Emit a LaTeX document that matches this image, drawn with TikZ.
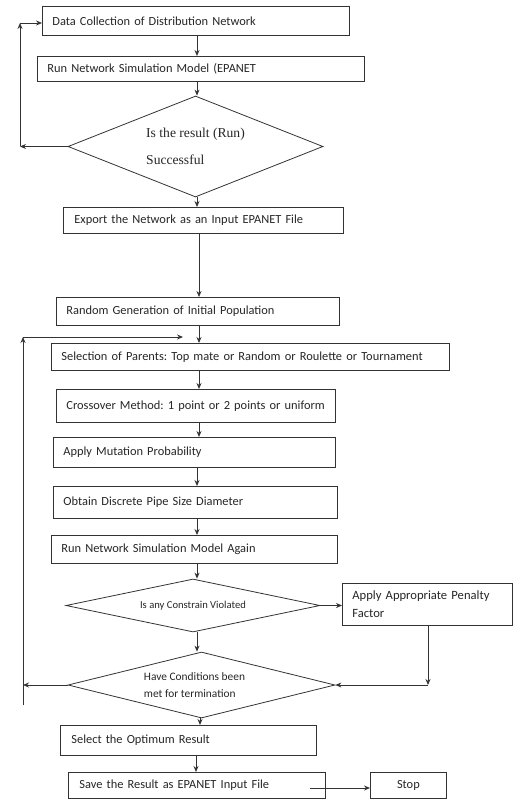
\documentclass[tikz,border=0pt]{standalone}
\usepackage{fontspec}
\setmainfont{Carlito}
\newfontfamily\dserif{Liberation Serif}
\usetikzlibrary{shapes.geometric,arrows.meta}
\definecolor{lc}{HTML}{333333}
\frenchspacing
\tikzset{
 box/.style={draw=lc, line width=0.8pt, rectangle, anchor=north west, inner xsep=10pt, inner ysep=0pt, align=left, text=black!85, font=\fontsize{12.4}{14}\selectfont},
 dia/.style={draw=lc, line width=0.8pt, diamond, inner sep=0pt, align=left, text=black!85},
 arr/.style={draw=lc, line width=0.8pt, -{Stealth[length=6pt,width=5pt]}},
}
\begin{document}
\frenchspacing
\begin{tikzpicture}[x=1pt,y=-1pt]
\useasboundingbox (0,0) rectangle (514,799);
\node[box, minimum width=307pt, text width=287pt, minimum height=29pt] (b1) at (42,6) {Data Collection of Distribution Network};
\node[box, minimum width=327pt, text width=307pt, minimum height=25pt] (b2) at (37,56) {Run Network Simulation Model (EPANET};
\node[dia, minimum width=255pt, minimum height=101pt, aspect=2.5, font=\fontsize{13.6}{15}\selectfont] (d1) at (195.5,146.5) {\dserif Is the result (Run)\\[12pt]\dserif Successful};
\node[box, minimum width=280pt, text width=258pt, minimum height=26pt, inner xsep=11pt] (b3) at (63,207) {Export the Network as an Input EPANET File};
\node[box, minimum width=283pt, text width=263pt, minimum height=28pt] (b4) at (56,297) {Random Generation of Initial Population};
\node[box, minimum width=398pt, text width=378pt, minimum height=27pt] (b5) at (51,343) {Selection of Parents: Top mate or Random or Roulette or Tournament};
\node[box, minimum width=279pt, text width=259pt, minimum height=33pt] (b6) at (56,389) {Crossover Method: 1 point or 2 points or uniform};
\node[box, minimum width=282pt, text width=262pt, minimum height=30pt] (b7) at (53,437) {Apply Mutation Probability};
\node[box, minimum width=284pt, text width=264pt, minimum height=32pt] (b8) at (53,486) {Obtain Discrete Pipe Size Diameter};
\node[box, minimum width=286pt, text width=266pt, minimum height=28pt] (b9) at (51,535) {Run Network Simulation Model Again};
\node[dia, minimum width=254pt, minimum height=53pt, aspect=5, font=\fontsize{10.6}{12}\selectfont] (d2) at (193,605.5) {Is any Constrain Violated};
\node[box, minimum width=170pt, text width=150pt, minimum height=42pt, font=\fontsize{12.6}{18}\selectfont] (pen) at (342,583) {Apply Appropriate Penalty\\Factor};
\node[dia, minimum width=267pt, minimum height=66pt, aspect=4, font=\fontsize{11.4}{17}\selectfont] (d3) at (201.5,685) {Have Conditions been\hspace*{14pt}\\met for termination};
\node[box, minimum width=256pt, text width=234pt, minimum height=30pt, inner xsep=11pt] (b10) at (60,725) {Select the Optimum Result};
\node[box, minimum width=257pt, text width=235pt, minimum height=26pt, inner xsep=11pt] (b11) at (68,772) {Save the Result as EPANET Input File};
\node[box, align=center, minimum width=76pt, text width=56pt, minimum height=26pt] (stop) at (370,772) {Stop};
% vertical connectors
\coordinate (cx) at (197,0);
\coordinate (cy) at (199,0);
\coordinate (cz) at (200,0);
\coordinate (cw) at (196,0);
\draw[arr] (b1.south -| cx) -- (b2.north -| cx);
\draw[arr] (b2.south -| cx) -- (d1.north -| cx);
\draw[arr] (d1.south -| cx) -- (b3.north -| cx);
\draw[arr] (b3.south -| cy) -- (b4.north -| cy);
\draw[arr] (b4.south -| cy) -- (b5.north -| cy);
\draw[arr] (b5.south -| cy) -- (b6.north -| cy);
\draw[arr] (b6.south -| cy) -- (b7.north -| cy);
\draw[arr] (b7.south -| cx) -- (b8.north -| cx);
\draw[arr] (b8.south -| cx) -- (b9.north -| cx);
\draw[arr] (b9.south -| cx) -- (d2.north -| cx);
\draw[arr] (d2.south -| cx) -- (d3.north -| cx);
\draw[arr] (d3.south -| cz) -- (b10.north -| cz);
\draw[arr] (b10.south -| cw) -- (b11.north -| cw);
% first loop
\coordinate (L1) at (20,145);
\coordinate (L2) at (20,23);
\draw[arr] (d1.west) -- (d1.west -| L1);
\draw[arr] (d1.west -| L1) -- (L2);
\draw[arr] (L2) -- (L2 -| b1.west);
% second loop
\coordinate (M1) at (23,705);
\coordinate (M2) at (23,337);
\coordinate (M3) at (183,337);
\draw[arr] (d3.west) -- (d3.west -| M1);
\draw[arr] (M1) -- (M2);
\draw[arr] (M2) -- (M3);
% penalty
\coordinate (P1) at (428,0);
\draw[arr] (d2.east) -- (d2.east -| pen.west);
\draw[arr] (pen.south -| P1) -- (P1 |- d3.east);
\draw[arr] (P1 |- d3.east) -- (d3.east);
% stop
\coordinate (S1) at (310,788);
\draw[arr] (S1) -- (S1 -| stop.west);
\end{tikzpicture}
\end{document}
